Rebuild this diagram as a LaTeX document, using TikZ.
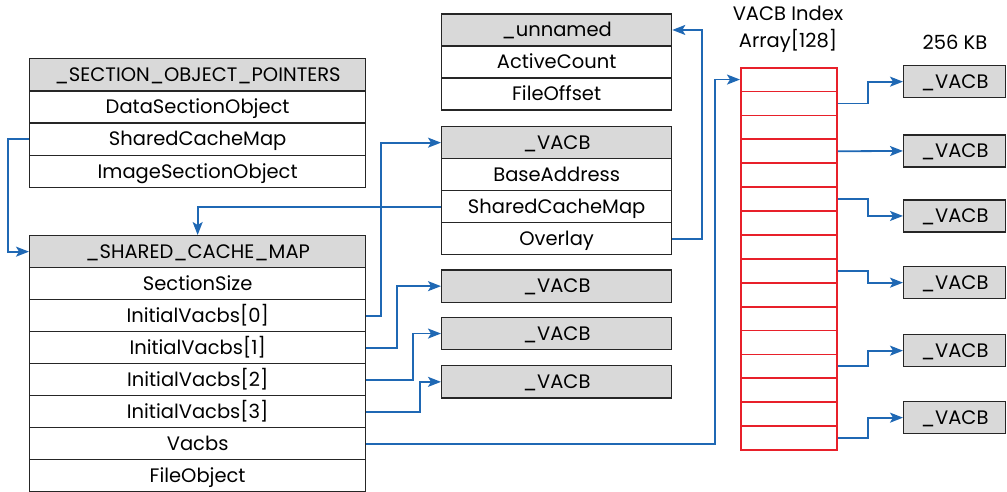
\documentclass[tikz,border=0pt]{standalone}
\usepackage{fontspec}
\setmainfont{Poppins}
\usetikzlibrary{arrows.meta,calc}
\definecolor{cblue}{HTML}{1F68B4}
\definecolor{cred}{HTML}{E8202A}
\definecolor{cgray}{HTML}{D9D9D9}
\definecolor{cborder}{HTML}{262626}
\begin{document}
\begin{tikzpicture}[x=1pt,y=-1pt,
  cell/.style={draw=cborder,line width=1.3pt,rectangle,anchor=north west,inner sep=0pt,
    font=\fontsize{19.5}{22}\selectfont,text height=16pt,text depth=2.4pt},
  hdr/.style={cell,fill=cgray},
  arr/.style={draw=cred,line width=1.8pt,rectangle,anchor=north west,inner sep=0pt,
    minimum width=96pt,minimum height=23.9pt},
  conn/.style={draw=cblue,line width=1.8pt,-{Stealth[length=13pt,width=10pt,inset=3pt]}},
  lbl/.style={font=\fontsize{19.5}{27}\selectfont,align=center,inner sep=0pt}
]
\useasboundingbox (0,0) rectangle (1007,491);
% _SECTION_OBJECT_POINTERS
\foreach \i/\t in {1/DataSectionObject,2/SharedCacheMap,3/ImageSectionObject}{
  \node[cell,minimum width=336pt,minimum height=32.2pt] (sop\i) at (29,{58+32.2*\i}) {\t};
}
\node[hdr,minimum width=336pt,minimum height=32.2pt] (sop0) at (29,58) {\_SECTION\_OBJECT\_POINTERS};
% _SHARED_CACHE_MAP
\foreach \i/\t in {1/SectionSize,2/InitialVacbs[0],3/InitialVacbs[1],4/InitialVacbs[2],5/InitialVacbs[3],6/Vacbs,7/FileObject}{
  \node[cell,minimum width=336pt,minimum height=32pt] (scm\i) at (29,{235+32*\i}) {\t};
}
\node[hdr,minimum width=336pt,minimum height=32pt] (scm0) at (29,235) {\_SHARED\_CACHE\_MAP};
% _unnamed
\foreach \i/\t in {1/ActiveCount,2/FileOffset}{
  \node[cell,minimum width=230pt,minimum height=32pt] (un\i) at (441,{13.3+32*\i}) {\t};
}
\node[hdr,minimum width=230pt,minimum height=32pt] (un0) at (441,13.3) {\_unnamed};
% _VACB (middle)
\foreach \i/\t in {1/BaseAddress,2/SharedCacheMap,3/Overlay}{
  \node[cell,minimum width=230pt,minimum height=32pt] (v\i) at (441,{126+32*\i}) {\t};
}
\node[hdr,minimum width=230pt,minimum height=32pt] (v0) at (441,126) {\_VACB};
% small VACBs
\node[hdr,minimum width=230pt,minimum height=32.4pt] (s1) at (441,269.3) {\_VACB};
\node[hdr,minimum width=230pt,minimum height=32.4pt] (s2) at (441,316.7) {\_VACB};
\node[hdr,minimum width=230pt,minimum height=32.4pt] (s3) at (441,365) {\_VACB};
% VACB index array
\foreach \i in {0,...,15}{
  \node[arr] (a\i) at (740,{66.7+23.9*\i}) {};
}
\node[lbl] (alabel) at (788,29) {VACB Index\\Array[128]};
\node[lbl] (kb) at (955,42) {256 KB};
% right VACBs
\node[hdr,minimum width=102pt,minimum height=32pt] (r1) at (903,65) {\_VACB};
\node[hdr,minimum width=102pt,minimum height=32pt] (r2) at (903,134.3) {\_VACB};
\node[hdr,minimum width=102pt,minimum height=32pt] (r3) at (903,199.3) {\_VACB};
\node[hdr,minimum width=102pt,minimum height=32pt] (r4) at (903,266) {\_VACB};
\node[hdr,minimum width=102pt,minimum height=32pt] (r5) at (903,334) {\_VACB};
\node[hdr,minimum width=102pt,minimum height=32pt] (r6) at (903,401) {\_VACB};
% connectors
\draw[conn] (sop2.west) -- ++(-21,0) |- (scm0.west);
\draw[conn] (v2.west) -| (scm0.north);
\draw[conn] (v3.east) -- ++(30,0) |- (un0.east);
\draw[conn] (scm2.east) -- ++(15,0) |- (v0.west);
\draw[conn] (scm3.east) -- ++(31,0) |- (s1.west);
\draw[conn] (scm4.east) -- ++(47,0) |- (s2.west);
\draw[conn] (scm5.east) -- ++(54,0) |- (s3.west);
\draw[conn] (scm6.east) -- ++(349,0) |- (a0.west);
\draw[conn] (a1.east) -- ++(30,0) |- (r1.west);
\draw[conn] (a3.east) -- (r2.west);
\draw[conn] (a5.east) -- ++(30,0) |- (r3.west);
\draw[conn] (a8.east) -- ++(30,0) |- (r4.west);
\draw[conn] (a12.east) -- ++(30,0) |- (r5.west);
\draw[conn] (a15.east) -- ++(30,0) |- (r6.west);
\end{tikzpicture}
\end{document}
